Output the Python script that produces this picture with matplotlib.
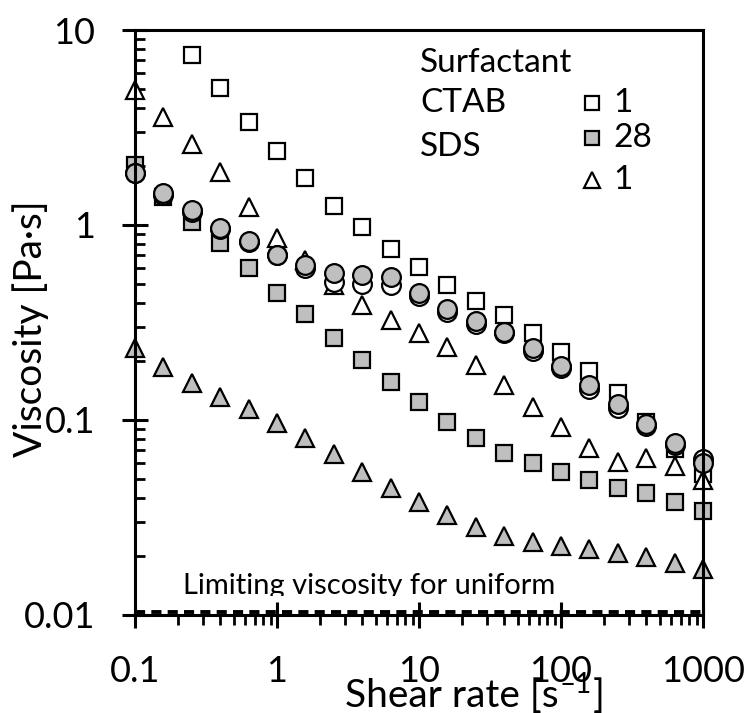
import numpy as np
import matplotlib
matplotlib.use("Agg")
import matplotlib.pyplot as plt
from matplotlib.ticker import FixedLocator, LogLocator, NullFormatter, FuncFormatter
from matplotlib.transforms import Bbox, TransformedBbox

plt.rcParams['font.family'] = ['Lato', 'DejaVu Sans']

# shear rate, 5 points per decade
shear = [0.1, 0.158, 0.251, 0.398, 0.631, 1, 1.58, 2.51, 3.98, 6.31, 10,
         15.8, 25.1, 39.8, 63.1, 100, 158, 251, 398, 631, 1000]

# CTAB 1 (open squares) - starts at 0.251
ctab1_x = shear[2:]
ctab1 = [7.45, 5.04, 3.37, 2.39, 1.74, 1.25, 0.977, 0.753, 0.61,
         0.49, 0.41, 0.345, 0.279, 0.223, 0.178, 0.137, 0.098, 0.071, 0.053]

# CTAB 28 (grey squares)
ctab28 = [2.02, 1.39, 1.04, 0.81, 0.60, 0.45, 0.35, 0.264, 0.203, 0.157, 0.124,
          0.098, 0.081, 0.068, 0.060, 0.054, 0.049, 0.045, 0.042, 0.038, 0.034]

# SDS 1 (open triangles)
sds1 = [4.9, 3.58, 2.6, 1.87, 1.24, 0.86, 0.66, 0.49, 0.39, 0.326, 0.28,
        0.237, 0.191, 0.151, 0.117, 0.092, 0.072, 0.061, 0.064, 0.058, 0.049]

# grey triangles
sds28 = [0.234, 0.187, 0.155, 0.131, 0.114, 0.097, 0.081, 0.067, 0.054, 0.045, 0.038,
         0.0326, 0.0283, 0.0254, 0.0237, 0.0226, 0.0218, 0.0208, 0.0198, 0.0185, 0.0172]

# open circles
circ_open = [1.85, 1.42, 1.16, 0.95, 0.82, 0.70, 0.60, 0.51, 0.50, 0.49, 0.43,
             0.36, 0.31, 0.28, 0.225, 0.185, 0.145, 0.115, 0.093, 0.074, 0.063]

# grey circles
circ_grey = [1.85, 1.46, 1.19, 0.97, 0.83, 0.70, 0.62, 0.57, 0.555, 0.54, 0.45,
             0.37, 0.32, 0.283, 0.234, 0.189, 0.151, 0.121, 0.095, 0.076, 0.060]

limit_visc = 0.0103

grey = "#bfbfbf"
W, H = 749, 713
fig = plt.figure(figsize=(W / 100, H / 100), dpi=100)
ax = fig.add_axes([135 / W, 1 - 615 / H, 568 / W, 585 / H])

mk = dict(ls="none", mec="black", mew=1.6, clip_on=False)
ax.plot(ctab1_x, ctab1, marker="s", ms=12, mfc="white", **mk)
ax.plot(shear, ctab28, marker="s", ms=12, mfc=grey, **mk)
ax.plot(shear, sds1, marker="^", ms=13.5, mfc="white", **mk)
ax.plot(shear, sds28, marker="^", ms=13.5, mfc=grey, **mk)
ax.plot(shear, circ_open, marker="o", ms=13.5, mfc="white", **mk)
ax.plot(shear, circ_grey, marker="o", ms=13.5, mfc=grey, **mk)

ax.set_xscale("log")
ax.set_yscale("log")
ax.set_xlim(0.1, 1000)
ax.set_ylim(0.01, 10)

# limiting viscosity line
ax.axhline(limit_visc, color="black", lw=2.8, ls=(0, (2.6, 1.6)), clip_on=False, zorder=3)

for s in ax.spines.values():
    s.set_linewidth(2.2)

fmt = FuncFormatter(lambda v, p: "%g" % v)
ax.xaxis.set_major_locator(FixedLocator([0.1, 1, 10, 100, 1000]))
ax.yaxis.set_major_locator(FixedLocator([0.01, 0.1, 1, 10]))
ax.xaxis.set_major_formatter(fmt)
ax.yaxis.set_major_formatter(fmt)
ax.xaxis.set_minor_locator(LogLocator(base=10, subs=np.arange(2, 10), numticks=20))
ax.yaxis.set_minor_locator(LogLocator(base=10, subs=np.arange(2, 10), numticks=20))
ax.xaxis.set_minor_formatter(NullFormatter())
ax.yaxis.set_minor_formatter(NullFormatter())

ax.tick_params(which="major", direction="inout", length=19, width=2.2,
               labelsize=26, pad=19, top=False, right=False)
ax.tick_params(axis="x", which="minor", direction="out", length=7, width=2.0)
ax.tick_params(axis="y", which="minor", direction="in", length=7, width=2.0)

# legend built from text
fs = 24
ax.text(0.502, 0.944, "Surfactant", transform=ax.transAxes, fontsize=fs, va="center")
ax.text(0.502, 0.875, "CTAB", transform=ax.transAxes, fontsize=fs, va="center")
ax.text(0.502, 0.800, "SDS", transform=ax.transAxes, fontsize=fs, va="center")
ax.plot([0.805], [0.875], transform=ax.transAxes, marker="s", ms=10.5, mfc="white", **mk)
ax.plot([0.805], [0.815], transform=ax.transAxes, marker="s", ms=10.5, mfc=grey, **mk)
ax.plot([0.805], [0.744], transform=ax.transAxes, marker="^", ms=12, mfc="white", **mk)
ax.text(0.842, 0.875, "1", transform=ax.transAxes, fontsize=fs, va="center")
ax.text(0.842, 0.815, "28", transform=ax.transAxes, fontsize=fs, va="center")
ax.text(0.842, 0.744, "1", transform=ax.transAxes, fontsize=fs, va="center")

# clipped annotation text
t = fig.text(183 / W, 1 - 594 / H, "Limiting viscosity for uniform", fontsize=21,
             va="baseline", ha="left")
clip = TransformedBbox(Bbox([[0, 1 - 596 / H], [1, 1]]), fig.transFigure)
t.set_clip_box(clip)
t.set_clip_on(True)

# x label assembled piece by piece so the superscript minus renders
renderer = fig.canvas.get_renderer()
base_y = 1 - 707 / H
p1 = fig.text(345 / W, base_y, "Shear rate [s", fontsize=28, va="baseline")
x1 = p1.get_window_extent(renderer).x1 / W
p2 = fig.text(x1 + 1 / W, base_y + 14 / H, "\u2013" + "1", fontsize=20, va="baseline")
x2 = p2.get_window_extent(renderer).x1 / W
fig.text(x2 + 1 / W, base_y, "]", fontsize=28, va="baseline")

fig.text(31 / W, 1 - 329 / H, "Viscosity [Pa·s]", fontsize=28, rotation=90,
         ha="center", va="center")

fig.savefig("out.png", dpi=100)
